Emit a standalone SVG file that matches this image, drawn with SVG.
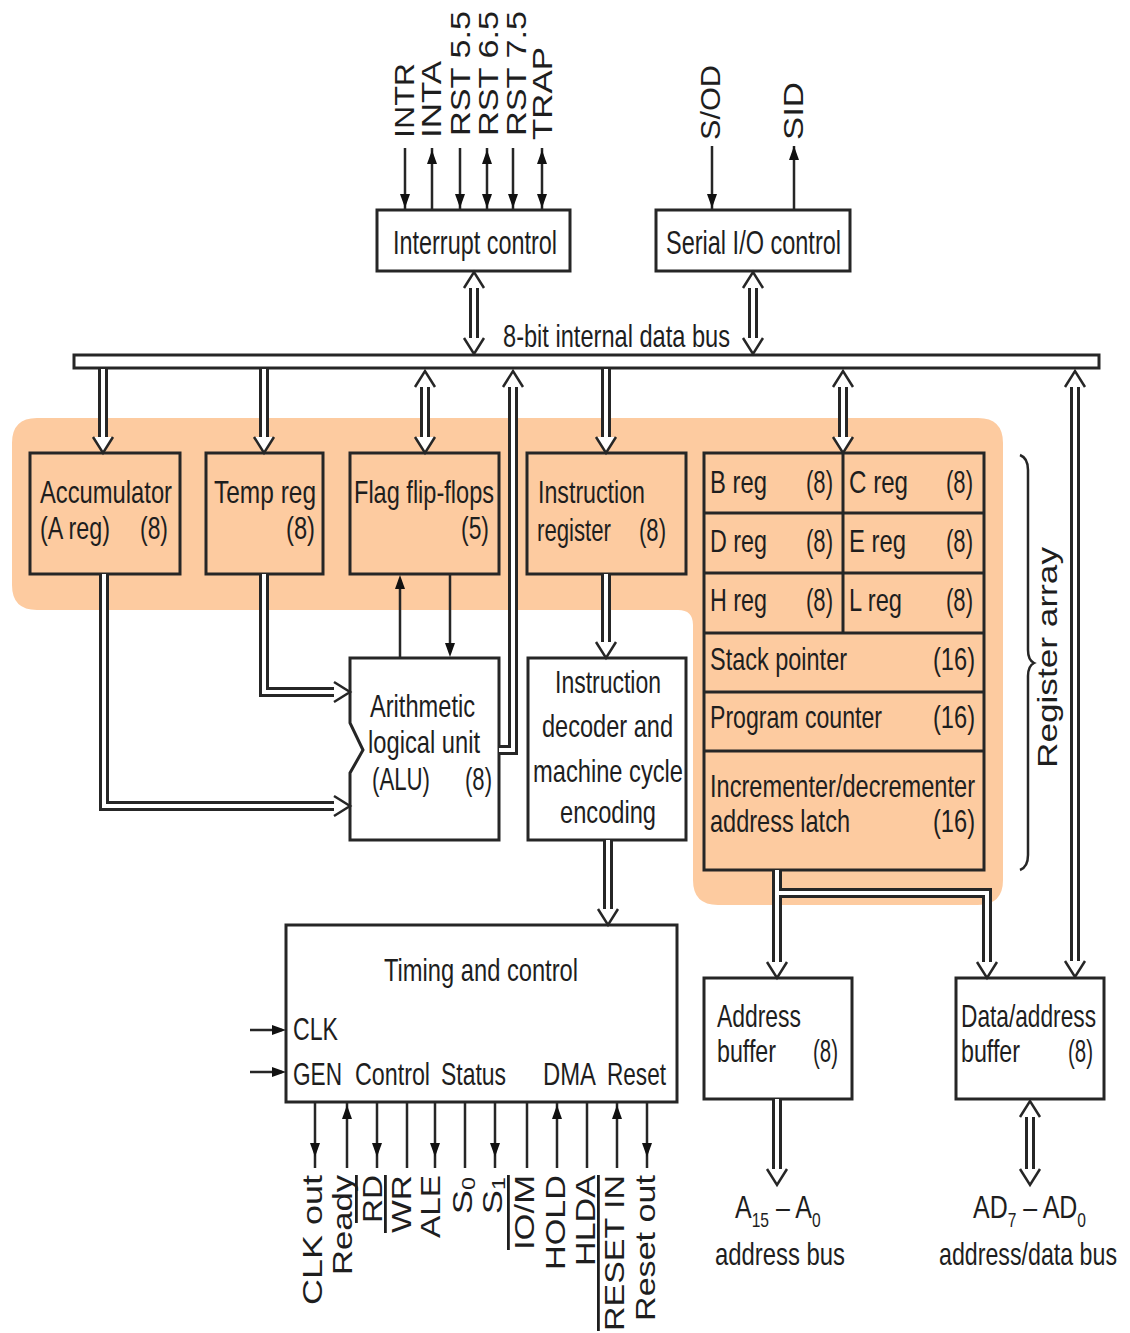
<svg xmlns="http://www.w3.org/2000/svg" width="1130" height="1333" viewBox="0 0 1130 1333">
<defs>
<style>
.t{font-family:'Liberation Sans',Arial,Helvetica,sans-serif;font-size:32px;fill:#1e1e1e}
.r{font-size:28px}
.s{font-size:34px}
.box{fill:#fff;stroke:#262626;stroke-width:3}
.obox{fill:none;stroke:#262626;stroke-width:3}
.so{fill:none;stroke:#262626;stroke-width:10}
.si{fill:none;stroke:#fff;stroke-width:4}
.ln{fill:none;stroke:#262626;stroke-width:2.5}
.ov{text-decoration:overline}
</style>
<path id="ah" d="M-10,-16 L0,0 L10,-16" fill="#fff" stroke="#262626" stroke-width="2.5"/>
<path id="sh" d="M0,0 L-5,-14 L5,-14 Z" fill="#111"/>
</defs>
<rect x="0" y="0" width="1130" height="1333" fill="#fff"/>

<g id="register-highlight">
<path d="M37 418 H978 Q1003 418 1003 443 V880 Q1003 905 978 905 H718 Q693 905 693 880 V625 Q693 610 678 610 H37 Q12 610 12 585 V443 Q12 418 37 418 Z" fill="#fdcba0"/>
</g>

<g id="interrupt-control">
<rect class="box" x="377" y="210" width="193" height="61"/>
<text class="t s" x="393" y="254" textLength="164" lengthAdjust="spacingAndGlyphs">Interrupt control</text>
</g>
<g id="serial-io-control">
<rect class="box" x="656" y="210" width="194" height="61"/>
<text class="t s" x="666" y="254" textLength="175" lengthAdjust="spacingAndGlyphs">Serial I/O control</text>
</g>
<g id="internal-data-bus">
<rect x="74" y="355" width="1025" height="13" fill="#fff" stroke="#262626" stroke-width="3"/>
<text class="t" x="503" y="347" textLength="227" lengthAdjust="spacingAndGlyphs">8-bit internal data bus</text>
</g>
<g id="accumulator">
<rect class="obox" x="30" y="453" width="150" height="121"/>
<text class="t" x="40" y="503" textLength="132" lengthAdjust="spacingAndGlyphs">Accumulator</text>
<text class="t" x="40" y="539" textLength="70" lengthAdjust="spacingAndGlyphs">(A reg)</text>
<text class="t" x="140" y="539" textLength="28" lengthAdjust="spacingAndGlyphs">(8)</text>
</g>
<g id="temp-reg">
<rect class="obox" x="206" y="453" width="117" height="121"/>
<text class="t" x="214" y="503" textLength="102" lengthAdjust="spacingAndGlyphs">Temp reg</text>
<text class="t" x="286" y="539" textLength="29" lengthAdjust="spacingAndGlyphs">(8)</text>
</g>
<g id="flag-flip-flops">
<rect class="obox" x="350" y="453" width="149" height="121"/>
<text class="t" x="354" y="503" textLength="140" lengthAdjust="spacingAndGlyphs">Flag flip-flops</text>
<text class="t" x="461" y="539" textLength="28" lengthAdjust="spacingAndGlyphs">(5)</text>
</g>
<g id="instruction-register">
<rect class="obox" x="527" y="453" width="159" height="121"/>
<text class="t" x="538" y="503" textLength="107" lengthAdjust="spacingAndGlyphs">Instruction</text>
<text class="t" x="537" y="541" textLength="74" lengthAdjust="spacingAndGlyphs">register</text>
<text class="t" x="639" y="541" textLength="27" lengthAdjust="spacingAndGlyphs">(8)</text>
</g>
<g id="register-array">
<rect class="obox" x="704" y="453" width="280" height="417"/>
<path class="obox" d="M704 513 H984 M704 573 H984 M704 633 H984 M704 692 H984 M704 751 H984 M843 453 V633"/>
<text class="t" x="710" y="493" textLength="57" lengthAdjust="spacingAndGlyphs">B reg</text>
<text class="t" x="806" y="493" textLength="27" lengthAdjust="spacingAndGlyphs">(8)</text>
<text class="t" x="849" y="493" textLength="59" lengthAdjust="spacingAndGlyphs">C reg</text>
<text class="t" x="946" y="493" textLength="27" lengthAdjust="spacingAndGlyphs">(8)</text>
<text class="t" x="710" y="552" textLength="57" lengthAdjust="spacingAndGlyphs">D reg</text>
<text class="t" x="806" y="552" textLength="27" lengthAdjust="spacingAndGlyphs">(8)</text>
<text class="t" x="849" y="552" textLength="57" lengthAdjust="spacingAndGlyphs">E reg</text>
<text class="t" x="946" y="552" textLength="27" lengthAdjust="spacingAndGlyphs">(8)</text>
<text class="t" x="710" y="611" textLength="57" lengthAdjust="spacingAndGlyphs">H reg</text>
<text class="t" x="806" y="611" textLength="27" lengthAdjust="spacingAndGlyphs">(8)</text>
<text class="t" x="849" y="611" textLength="53" lengthAdjust="spacingAndGlyphs">L reg</text>
<text class="t" x="946" y="611" textLength="27" lengthAdjust="spacingAndGlyphs">(8)</text>
<text class="t" x="710" y="670" textLength="137" lengthAdjust="spacingAndGlyphs">Stack pointer</text>
<text class="t" x="933" y="670" textLength="42" lengthAdjust="spacingAndGlyphs">(16)</text>
<text class="t" x="710" y="728" textLength="172" lengthAdjust="spacingAndGlyphs">Program counter</text>
<text class="t" x="933" y="728" textLength="42" lengthAdjust="spacingAndGlyphs">(16)</text>
<text class="t" x="710" y="797" textLength="265" lengthAdjust="spacingAndGlyphs">Incrementer/decrementer</text>
<text class="t" x="710" y="832" textLength="140" lengthAdjust="spacingAndGlyphs">address latch</text>
<text class="t" x="933" y="832" textLength="42" lengthAdjust="spacingAndGlyphs">(16)</text>
</g>
<g id="register-array-label">
<path d="M1020 455 Q1028 458 1028 470 V650 Q1028 660 1034 663 Q1028 666 1028 676 V855 Q1028 867 1020 870" fill="none" stroke="#262626" stroke-width="2.5"/>
<text class="t r" transform="translate(1057 768) rotate(-90)" textLength="221" lengthAdjust="spacingAndGlyphs">Register array</text>
</g>
<g id="alu">
<path class="box" d="M350 658 H499 V840 H350 V773 L363 750 L350 723 Z"/>
<text class="t" x="370" y="717" textLength="105" lengthAdjust="spacingAndGlyphs">Arithmetic</text>
<text class="t" x="368" y="753" textLength="112" lengthAdjust="spacingAndGlyphs">logical unit</text>
<text class="t" x="372" y="790" textLength="58" lengthAdjust="spacingAndGlyphs">(ALU)</text>
<text class="t" x="465" y="790" textLength="27" lengthAdjust="spacingAndGlyphs">(8)</text>
</g>
<g id="instruction-decoder">
<rect class="box" x="528" y="658" width="158" height="182"/>
<text class="t" x="555" y="693" textLength="106" lengthAdjust="spacingAndGlyphs">Instruction</text>
<text class="t" x="542" y="737" textLength="131" lengthAdjust="spacingAndGlyphs">decoder and</text>
<text class="t" x="533" y="782" textLength="150" lengthAdjust="spacingAndGlyphs">machine cycle</text>
<text class="t" x="560" y="823" textLength="96" lengthAdjust="spacingAndGlyphs">encoding</text>
</g>
<g id="timing-and-control">
<rect class="box" x="286" y="925" width="391" height="177"/>
<text class="t" x="384" y="981" textLength="194" lengthAdjust="spacingAndGlyphs">Timing and control</text>
<text class="t" x="293" y="1040" textLength="45" lengthAdjust="spacingAndGlyphs">CLK</text>
<text class="t" x="293" y="1085" textLength="49" lengthAdjust="spacingAndGlyphs">GEN</text>
<text class="t" x="355" y="1085" textLength="75" lengthAdjust="spacingAndGlyphs">Control</text>
<text class="t" x="441" y="1085" textLength="65" lengthAdjust="spacingAndGlyphs">Status</text>
<text class="t" x="543" y="1085" textLength="53" lengthAdjust="spacingAndGlyphs">DMA</text>
<text class="t" x="607" y="1085" textLength="59" lengthAdjust="spacingAndGlyphs">Reset</text>
</g>
<g id="address-buffer">
<rect class="box" x="704" y="978" width="148" height="121"/>
<text class="t" x="717" y="1027" textLength="84" lengthAdjust="spacingAndGlyphs">Address</text>
<text class="t" x="717" y="1062" textLength="59" lengthAdjust="spacingAndGlyphs">buffer</text>
<text class="t" x="813" y="1062" textLength="25" lengthAdjust="spacingAndGlyphs">(8)</text>
</g>
<g id="data-address-buffer">
<rect class="box" x="956" y="978" width="148" height="121"/>
<text class="t" x="961" y="1027" textLength="135" lengthAdjust="spacingAndGlyphs">Data/address</text>
<text class="t" x="961" y="1062" textLength="59" lengthAdjust="spacingAndGlyphs">buffer</text>
<text class="t" x="1068" y="1062" textLength="25" lengthAdjust="spacingAndGlyphs">(8)</text>
</g>
<g id="address-bus-label">
<text class="t" transform="translate(735 1218) scale(0.78 1)">A<tspan font-size="20" dy="9">15</tspan><tspan dy="-9"> – A</tspan><tspan font-size="20" dy="9">0</tspan></text>
<text class="t" x="715" y="1265" textLength="130" lengthAdjust="spacingAndGlyphs">address bus</text>
</g>
<g id="address-data-bus-label">
<text class="t" transform="translate(973 1218) scale(0.78 1)">AD<tspan font-size="20" dy="9">7</tspan><tspan dy="-9"> – AD</tspan><tspan font-size="20" dy="9">0</tspan></text>
<text class="t" x="939" y="1265" textLength="178" lengthAdjust="spacingAndGlyphs">address/data bus</text>
</g>

<g id="signal-labels">
<text class="t r" transform="translate(414 138) rotate(-90)" textLength="75" lengthAdjust="spacingAndGlyphs">INTR</text>
<text class="t r" transform="translate(441 138) rotate(-90)" textLength="77" lengthAdjust="spacingAndGlyphs">INTA</text>
<text class="t r" transform="translate(470 136) rotate(-90)" textLength="125" lengthAdjust="spacingAndGlyphs">RST 5.5</text>
<text class="t r" transform="translate(498 136) rotate(-90)" textLength="125" lengthAdjust="spacingAndGlyphs">RST 6.5</text>
<text class="t r" transform="translate(526 136) rotate(-90)" textLength="125" lengthAdjust="spacingAndGlyphs">RST 7.5</text>
<text class="t r" transform="translate(552 140) rotate(-90)" textLength="93" lengthAdjust="spacingAndGlyphs">TRAP</text>
<text class="t r" transform="translate(720 140) rotate(-90)" textLength="75" lengthAdjust="spacingAndGlyphs">S/OD</text>
<text class="t r" transform="translate(803 140) rotate(-90)" textLength="58" lengthAdjust="spacingAndGlyphs">SID</text>
<text class="t r" transform="translate(322 1175) rotate(-90)" text-anchor="end" textLength="130" lengthAdjust="spacingAndGlyphs">CLK out</text>
<text class="t r" transform="translate(352 1175) rotate(-90)" text-anchor="end" textLength="100" lengthAdjust="spacingAndGlyphs">Ready</text>
<text class="t r ov" transform="translate(382 1175) rotate(-90)" text-anchor="end" textLength="48" lengthAdjust="spacingAndGlyphs">RD</text>
<text class="t r ov" transform="translate(411 1175) rotate(-90)" text-anchor="end" textLength="58" lengthAdjust="spacingAndGlyphs">WR</text>
<text class="t r" transform="translate(440 1175) rotate(-90)" text-anchor="end" textLength="63" lengthAdjust="spacingAndGlyphs">ALE</text>
<text class="t r" transform="translate(472 1177) rotate(-90) scale(1.3 1)" text-anchor="end">S<tspan font-size="18" dy="3">0</tspan></text>
<text class="t r" transform="translate(502 1177) rotate(-90) scale(1.3 1)" text-anchor="end">S<tspan font-size="18" dy="3">1</tspan></text>
<text class="t r ov" transform="translate(534 1175) rotate(-90)" text-anchor="end" textLength="75" lengthAdjust="spacingAndGlyphs">IO/M</text>
<text class="t r" transform="translate(565 1175) rotate(-90)" text-anchor="end" textLength="95" lengthAdjust="spacingAndGlyphs">HOLD</text>
<text class="t r" transform="translate(595 1175) rotate(-90)" text-anchor="end" textLength="91" lengthAdjust="spacingAndGlyphs">HLDA</text>
<text class="t r ov" transform="translate(624 1175) rotate(-90)" text-anchor="end" textLength="156" lengthAdjust="spacingAndGlyphs">RESET IN</text>
<text class="t r" transform="translate(655 1175) rotate(-90)" text-anchor="end" textLength="146" lengthAdjust="spacingAndGlyphs">Reset out</text>
</g>

<g id="connectors">
<path class="ln" d="M405 148 V210 M432 148 V210 M460 148 V210 M487 148 V210 M513 148 V210 M542 148 V210 M712 146 V210 M794 146 V210"/>
<use href="#sh" transform="translate(405 208)"/>
<use href="#sh" transform="translate(432 150) rotate(180)"/>
<use href="#sh" transform="translate(460 208)"/>
<use href="#sh" transform="translate(487 150) rotate(180)"/>
<use href="#sh" transform="translate(487 208)"/>
<use href="#sh" transform="translate(513 208)"/>
<use href="#sh" transform="translate(542 150) rotate(180)"/>
<use href="#sh" transform="translate(542 208)"/>
<use href="#sh" transform="translate(712 208)"/>
<use href="#sh" transform="translate(794 146) rotate(180)"/>
<path class="ln" d="M400 658 V580 M450 574 V652"/>
<use href="#sh" transform="translate(400 575) rotate(180)"/>
<use href="#sh" transform="translate(450 657)"/>
<path class="ln" d="M315 1102 V1168 M347 1102 V1168 M377 1102 V1168 M407 1102 V1168 M435 1102 V1168 M465 1102 V1168 M495 1102 V1168 M527 1102 V1168 M557 1102 V1168 M587 1102 V1168 M617 1102 V1168 M647 1102 V1168 M250 1030 H282 M250 1072 H282"/>
<use href="#sh" transform="translate(315 1157)"/>
<use href="#sh" transform="translate(347 1105) rotate(180)"/>
<use href="#sh" transform="translate(377 1157)"/>
<use href="#sh" transform="translate(435 1157)"/>
<use href="#sh" transform="translate(495 1157)"/>
<use href="#sh" transform="translate(557 1105) rotate(180)"/>
<use href="#sh" transform="translate(617 1105) rotate(180)"/>
<use href="#sh" transform="translate(647 1157)"/>
<use href="#sh" transform="translate(286 1030) rotate(-90)"/>
<use href="#sh" transform="translate(286 1072) rotate(-90)"/>

<path class="so" d="M474 285 V341 M753 285 V341 M103 369 V440 M264 369 V440 M425 384 V440 M499 750 H513 V384 M606 369 V440 M843 384 V440 M1075 384 V964 M104 574 V806 H337 M264 574 V692 H337 M606 574 V645 M608 840 V912 M777 870 V965 M777 893 H987 V965 M777 1099 V1172 M1030 1114 V1172"/>
<path class="si" d="M474 285 V341 M753 285 V341 M103 369 V440 M264 369 V440 M425 384 V440 M499 750 H513 V384 M606 369 V440 M843 384 V440 M1075 384 V964 M104 574 V806 H337 M264 574 V692 H337 M606 574 V645 M608 840 V912 M777 870 V965 M777 893 H987 V965 M777 1099 V1172 M1030 1114 V1172"/>
<use href="#ah" transform="translate(474 272) rotate(180)"/>
<use href="#ah" transform="translate(474 354)"/>
<use href="#ah" transform="translate(753 272) rotate(180)"/>
<use href="#ah" transform="translate(753 354)"/>
<use href="#ah" transform="translate(103 453)"/>
<use href="#ah" transform="translate(264 453)"/>
<use href="#ah" transform="translate(425 371) rotate(180)"/>
<use href="#ah" transform="translate(425 453)"/>
<use href="#ah" transform="translate(513 371) rotate(180)"/>
<use href="#ah" transform="translate(606 453)"/>
<use href="#ah" transform="translate(843 371) rotate(180)"/>
<use href="#ah" transform="translate(843 453)"/>
<use href="#ah" transform="translate(1075 371) rotate(180)"/>
<use href="#ah" transform="translate(1075 977)"/>
<use href="#ah" transform="translate(350 806) rotate(-90)"/>
<use href="#ah" transform="translate(350 692) rotate(-90)"/>
<use href="#ah" transform="translate(606 658)"/>
<use href="#ah" transform="translate(608 925)"/>
<use href="#ah" transform="translate(777 978)"/>
<use href="#ah" transform="translate(987 978)"/>
<use href="#ah" transform="translate(777 1185)"/>
<use href="#ah" transform="translate(1030 1101) rotate(180)"/>
<use href="#ah" transform="translate(1030 1185)"/>
</g>
</svg>
